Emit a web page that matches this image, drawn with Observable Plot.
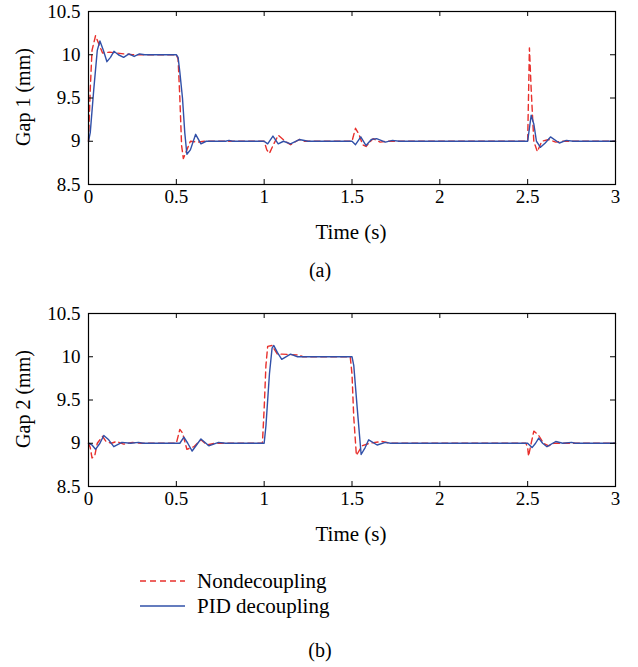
<!DOCTYPE html>
<html><head><meta charset="utf-8">
<script src="https://cdn.jsdelivr.net/npm/d3@7"></script>
<script src="https://cdn.jsdelivr.net/npm/@observablehq/plot@0.6"></script>
<style>
body{margin:0;background:#fff;width:638px;height:667px;position:relative;overflow:hidden;font-family:"Liberation Serif","Times New Roman",serif;color:#000;}
.abs{position:absolute;}
.cap{position:absolute;font-size:20px;transform:translate(-50%,-50%);white-space:nowrap;line-height:1;}
.ylab{position:absolute;font-size:20px;transform:translate(-50%,-50%) rotate(-90deg);white-space:nowrap;line-height:1;}
.leg{position:absolute;font-size:21px;white-space:nowrap;line-height:1;transform:translateY(-50%);}
</style></head><body>
<div id="c1" class="abs" style="left:0;top:0"></div>
<div id="c2" class="abs" style="left:0;top:302px"></div>
<div class="ylab" style="left:23px;top:97px">Gap 1 (mm)</div>
<div class="cap" style="left:351px;top:232px;font-size:21px">Time (s)</div>
<div class="cap" style="left:320px;top:270px">(a)</div>
<div class="ylab" style="left:23px;top:399px">Gap 2 (mm)</div>
<div class="cap" style="left:351px;top:534px;font-size:21px">Time (s)</div>
<svg class="abs" style="left:0;top:560px" width="200" height="60">
  <line x1="140" x2="185" y1="21" y2="21" stroke="#e8302c" stroke-width="1.4" stroke-dasharray="6,4"/>
  <line x1="140" x2="185" y1="46" y2="46" stroke="#3150a8" stroke-width="1.4"/>
</svg>
<div class="leg" style="left:197px;top:581px">Nondecoupling</div>
<div class="leg" style="left:197px;top:606px">PID decoupling</div>
<div class="cap" style="left:320px;top:650px">(b)</div>
<script>
// ---- data ----
const xTicks = [0, 0.5, 1, 1.5, 2, 2.5, 3];
const xTickLabels = ["0", "0.5", "1", "1.5", "2", "2.5", "3"];
const yTicks = [8.5, 9, 9.5, 10, 10.5];
const yTickLabels = ["8.5", "9", "9.5", "10", "10.5"];
const seriesNames = ["Nondecoupling", "PID decoupling"];

// Gap 1, Nondecoupling
const gap1RedT = [0, 0.01, 0.02, 0.04, 0.06, 0.08, 0.12, 0.16, 0.2, 0.25, 0.3, 0.5, 0.51, 0.52, 0.53, 0.54, 0.56, 0.58, 0.62, 0.66, 0.7, 1.0, 1.015, 1.03, 1.05, 1.08, 1.12, 1.15, 1.2, 1.23, 1.5, 1.52, 1.54, 1.56, 1.58, 1.62, 1.66, 1.7, 1.75, 2.5, 2.51, 2.52, 2.535, 2.555, 2.58, 2.62, 2.66, 2.7, 3.0];
const gap1RedV = [9.0, 9.6, 10.05, 10.22, 10.12, 10.02, 10.03, 10.02, 10.01, 10.0, 10.0, 10.0, 9.95, 9.5, 8.95, 8.8, 8.9, 9.0, 8.99, 9.0, 9.0, 9.0, 8.9, 8.86, 8.95, 9.07, 9.0, 8.96, 9.02, 9.0, 9.0, 9.15, 9.08, 8.96, 8.94, 9.03, 8.99, 9.0, 9.0, 9.0, 10.08, 9.6, 9.0, 8.88, 9.0, 9.02, 8.99, 9.0, 9.0];
// Gap 1, PID decoupling
const gap1BlueT = [0, 0.01, 0.03, 0.05, 0.065, 0.085, 0.105, 0.125, 0.145, 0.17, 0.2, 0.23, 0.26, 0.29, 0.32, 0.5, 0.51, 0.52, 0.535, 0.548, 0.56, 0.58, 0.61, 0.64, 0.67, 0.7, 0.78, 0.8, 0.82, 1.0, 1.02, 1.05, 1.08, 1.11, 1.15, 1.2, 1.25, 1.5, 1.52, 1.55, 1.58, 1.61, 1.64, 1.69, 1.73, 1.77, 2.5, 2.51, 2.52, 2.535, 2.55, 2.573, 2.6, 2.63, 2.68, 2.72, 2.76, 3.0];
const gap1BlueV = [9.0, 9.1, 9.6, 10.05, 10.16, 10.05, 9.92, 9.97, 10.04, 10.0, 9.97, 10.01, 9.98, 10.01, 10.0, 10.0, 9.97, 9.8, 9.5, 9.1, 8.85, 8.9, 9.08, 8.97, 9.0, 9.0, 9.0, 9.01, 9.0, 9.0, 8.97, 9.06, 8.97, 9.0, 8.97, 9.02, 9.0, 9.0, 8.96, 9.05, 8.95, 9.02, 9.03, 8.99, 9.01, 9.0, 9.0, 9.15, 9.3, 9.2, 9.0, 8.93, 8.98, 9.05, 8.98, 9.01, 9.0, 9.0];

// Gap 2, Nondecoupling
const gap2RedT = [0, 0.01, 0.02, 0.035, 0.05, 0.08, 0.1, 0.13, 0.16, 0.2, 0.25, 0.3, 0.5, 0.51, 0.52, 0.535, 0.56, 0.6, 0.64, 0.675, 0.72, 0.99, 1.0, 1.01, 1.02, 1.045, 1.075, 1.1, 1.2, 1.22, 1.49, 1.5, 1.51, 1.525, 1.557, 1.6, 1.67, 1.72, 2.49, 2.5, 2.505, 2.52, 2.535, 2.56, 2.59, 2.62, 2.65, 3.0];
const gap2RedV = [9.0, 8.95, 8.83, 8.85, 9.0, 9.08, 9.02, 9.0, 9.02, 8.99, 9.01, 9.0, 9.0, 9.08, 9.16, 9.12, 8.93, 8.96, 9.04, 8.98, 9.0, 9.0, 9.4, 9.9, 10.12, 10.13, 10.03, 10.03, 10.02, 10.0, 10.0, 9.8, 9.3, 8.86, 8.97, 9.0, 9.02, 9.0, 9.0, 8.95, 8.85, 9.0, 9.14, 9.1, 9.0, 8.97, 9.0, 9.0];
// Gap 2, PID decoupling
const gap2BlueT = [0, 0.02, 0.04, 0.065, 0.087, 0.115, 0.144, 0.19, 0.24, 0.285, 0.31, 0.5, 0.52, 0.543, 0.565, 0.59, 0.615, 0.64, 0.685, 0.74, 0.78, 1.0, 1.01, 1.03, 1.045, 1.055, 1.075, 1.1, 1.15, 1.19, 1.5, 1.51, 1.53, 1.552, 1.575, 1.595, 1.643, 1.69, 1.72, 2.5, 2.51, 2.525, 2.545, 2.563, 2.585, 2.61, 2.66, 2.7, 2.75, 2.77, 3.0];
const gap2BlueV = [9.0, 8.98, 8.93, 9.0, 9.09, 9.04, 8.96, 9.01, 9.0, 9.01, 9.0, 9.0, 9.0, 9.07, 9.0, 8.91, 8.98, 9.05, 8.97, 9.01, 9.0, 9.0, 9.2, 9.8, 10.1, 10.13, 10.05, 9.97, 10.03, 10.0, 10.0, 9.9, 9.4, 8.87, 8.95, 9.04, 8.98, 9.01, 9.0, 9.0, 8.98, 8.95, 9.0, 9.06, 9.0, 8.96, 9.02, 9.0, 9.01, 9.0, 9.0];

const RED = "#e8302c", BLUE = "#3150a8";

function chart(rT, rV, bT, bV) {
  const red = rT.map((t, i) => ({t, v: rV[i], s: seriesNames[0]}));
  const blue = bT.map((t, i) => ({t, v: bV[i], s: seriesNames[1]}));
  const W = 638, H = 215, mL = 88, mR = 23, mT = 11, mB = 31;
  const iw = W - mL - mR, ih = H - mT - mB;
  return Plot.plot({
    width: W, height: H,
    marginLeft: mL, marginRight: mR, marginTop: mT, marginBottom: mB,
    style: {fontFamily: "'Liberation Serif', 'Times New Roman', serif", fontSize: "19px", background: "transparent", color: "#000"},
    x: {domain: [0, 3], ticks: xTicks, tickFormat: d => xTickLabels[xTicks.indexOf(d)], tickSize: 0, tickPadding: 5, label: null},
    y: {domain: [8.5, 10.5], ticks: yTicks, tickFormat: d => yTickLabels[yTicks.indexOf(d)], tickSize: 0, tickPadding: 8, label: null},
    marks: [
      Plot.lineY(red, {x: "t", y: "v", stroke: RED, strokeWidth: 1.4, strokeDasharray: "6,4"}),
      Plot.lineY(blue, {x: "t", y: "v", stroke: BLUE, strokeWidth: 1.4}),
      Plot.tickX(xTicks, {x: d => d, insetTop: ih - 5, stroke: "#000"}),
      Plot.tickX(xTicks, {x: d => d, insetBottom: ih - 5, stroke: "#000"}),
      Plot.tickY(yTicks, {y: d => d, insetRight: iw - 5, stroke: "#000"}),
      Plot.tickY(yTicks, {y: d => d, insetLeft: iw - 5, stroke: "#000"}),
      Plot.frame({stroke: "#000", strokeWidth: 1.2})
    ]
  });
}

document.getElementById("c1").appendChild(chart(gap1RedT, gap1RedV, gap1BlueT, gap1BlueV));
document.getElementById("c2").appendChild(chart(gap2RedT, gap2RedV, gap2BlueT, gap2BlueV));
</script>
</body></html>
